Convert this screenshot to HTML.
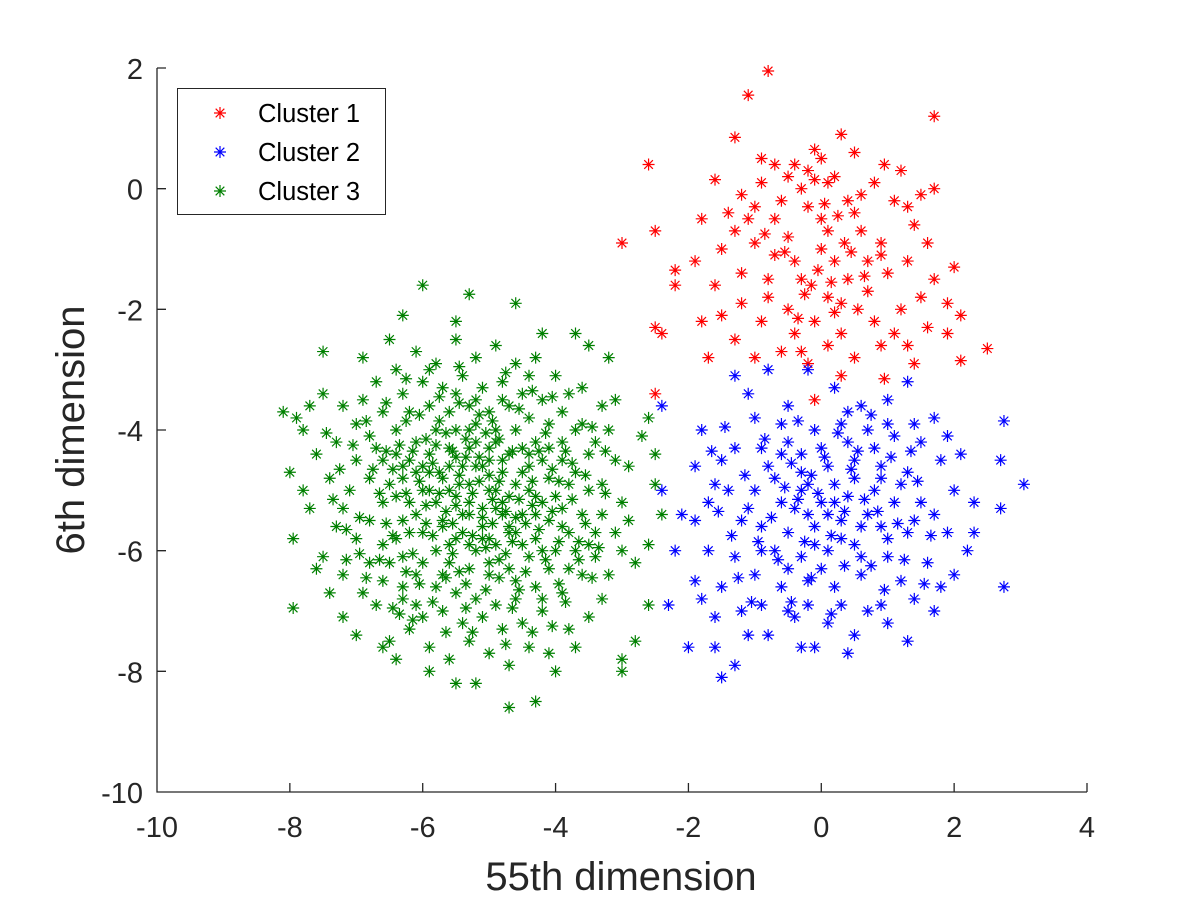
<!DOCTYPE html>
<html><head><meta charset="utf-8"><style>
html,body{margin:0;padding:0;background:#fff;}
svg{display:block;font-family:"Liberation Sans",Arial,sans-serif;}
</style></head><body>
<svg id="chart" width="1200" height="900" viewBox="0 0 1200 900">
<rect width="1200" height="900" fill="#fff"/>
<g id="marks"></g>
<g id="axes"></g>
<text x="621" y="890" text-anchor="middle" font-size="40" fill="#262626">55th dimension</text>
<text transform="translate(84,430) rotate(-90)" text-anchor="middle" font-size="40" fill="#262626">6th dimension</text>
<g>
<rect x="177.5" y="88.5" width="208" height="126" fill="#fff" stroke="#262626" stroke-width="1"/>
<g id="legmarks"></g>
<text x="258" y="122" font-size="25.5" fill="#000">Cluster 1</text>
<text x="258" y="161" font-size="25.5" fill="#000">Cluster 2</text>
<text x="258" y="200" font-size="25.5" fill="#000">Cluster 3</text>
</g>
</svg>
<script>
const xTicks=[-10,-8,-6,-4,-2,0,2,4];
const yTicks=[-10,-8,-6,-4,-2,0,2];
const seriesNames=["Cluster 1","Cluster 2","Cluster 3"];
const seriesColors=["#ff0000","#0000ff","#008000"];
const cluster1=[-0.8,1.95,-1.1,1.55,1.7,1.2,-2.6,0.4,-3,-0.9,-2.5,-0.7,2.5,-2.65,2.1,-2.85,1.7,0,0.3,0.9,-1.3,0.85,-0.9,0.5,-0.7,0.4,0.95,0.4,0.5,0.6,0,0.5,-0.1,0.65,-1.6,0.15,-1.2,-0.1,-0.6,-0.2,-0.3,0,0.2,0.2,0.6,-0.1,1.1,-0.2,1.4,-0.6,1.6,-0.9,-2.2,-1.35,-1.9,-1.2,-1.5,-1.0,-1.0,-0.9,-0.5,-0.8,0.1,-0.7,0.5,-0.4,0.9,-0.9,1.3,-1.2,2.0,-1.3,1.9,-1.9,2.1,-2.1,1.6,-2.3,1.2,-2.0,0.7,-1.7,0.4,-1.5,0.1,-1.8,-0.3,-1.5,-0.8,-1.5,-1.2,-1.4,-1.6,-1.6,-1.8,-2.2,-1.3,-2.5,-0.9,-2.2,-0.5,-2.0,-0.1,-2.2,0.3,-2.4,0.8,-2.2,1.3,-2.6,1.9,-2.4,-1.0,-2.8,-0.6,-2.7,-0.2,-2.9,0.3,-3.1,1.4,-2.9,-0.1,-3.5,-2.4,-2.4,-2.5,-2.3,-1.7,-2.8,-0.2,-0.3,0,-1,-0.4,-1.2,0.2,-1.2,0.6,-0.7,-0.7,-0.5,-1.4,-0.4,0.8,0.1,1.2,0.3,-0.2,0.3,0.4,-0.2,-0.4,0.4,-1.1,-0.5,1.7,-1.5,1.0,-1.4,0.3,-1.9,-0.4,-2.4,-1.2,-1.9,-1.5,-2.1,0.9,-2.6,0.5,-2.8,0.1,-2.6,-0.7,-1.1,-1.0,-0.3,0.7,-1.2,1.5,-1.8,-2.2,-1.6,-1.8,-0.5,-1.3,-0.7,0.0,-0.5,0.35,-0.9,-0.15,-1.6,0.55,-2.0,1.1,-2.4,-0.8,-1.8,-0.3,-2.7,0.9,-1.1,1.3,-0.3,-0.9,0.1,-0.5,0.2,0.1,0.1,1.5,-0.1,-2.5,-3.4,0.95,-3.15,
-0.05,-1.35,0.15,-1.55,-0.25,-1.75,0.05,-0.25,-0.55,-1.05,0.45,-1.05,-0.1,0.15,0.25,-0.45,-0.85,-0.75,0.65,-1.45,-0.35,-2.15,0.2,-2.05];
const cluster2=[3.05,-4.9,2.75,-3.85,2.75,-6.6,2.7,-5.3,2.7,-4.5,2.3,-5.2,2.2,-6.0,2.1,-4.4,1.7,-7.0,-1.5,-8.1,-1.3,-7.9,-2.3,-6.9,-2.4,-5.0,-2.1,-5.4,-2.4,-3.6,-1.6,-7.6,-0.1,-7.6,1.0,-7.2,1.7,-3.8,1.3,-3.2,-0.2,-3.0,-0.8,-3.0,-1.3,-3.1,-1.0,-3.8,-0.5,-3.6,0.2,-3.3,0.6,-3.6,1.0,-3.5,1.4,-3.9,-1.8,-4.0,-1.9,-4.6,-1.6,-4.9,-1.9,-5.5,-1.7,-6.0,-1.9,-6.5,-1.5,-6.6,-1.2,-7.0,-0.8,-7.4,-0.4,-7.1,0.1,-7.2,0.5,-7.4,0.9,-6.9,1.2,-6.5,1.6,-6.2,1.9,-5.7,2.0,-5.0,1.8,-4.5,1.5,-4.2,1.1,-4.1,0.7,-4.0,0.3,-3.9,-0.1,-4.0,-0.5,-4.2,-0.9,-4.3,-1.3,-4.3,-1.4,-5.0,-1.2,-5.5,-1.3,-6.1,-1.0,-6.4,-0.6,-6.6,-0.2,-6.5,0.2,-6.6,0.6,-6.4,1.0,-6.1,1.3,-5.7,1.5,-5.2,1.3,-4.7,0.9,-4.6,0.5,-4.5,0.1,-4.6,-0.3,-4.7,-0.7,-4.8,-1.0,-5.0,-0.9,-5.6,-0.7,-6.0,-0.3,-6.1,0.1,-6.0,0.5,-5.9,0.9,-5.6,1.1,-5.2,0.8,-5.0,0.4,-5.1,0.0,-5.2,-0.4,-5.3,-0.5,-5.7,-0.1,-5.6,0.3,-5.5,0.7,-5.4,0.2,-4.9,-0.2,-4.9,-0.6,-4.4,0.0,-4.3,0.4,-4.2,0.8,-4.3,1.2,-4.9,1.0,-5.8,0.6,-6.1,0.0,-6.3,-0.5,-6.3,-0.9,-6.0,-1.1,-5.3,-0.8,-4.6,-0.3,-5.0,0.1,-5.4,0.5,-4.8,0.9,-4.8,1.4,-5.5,1.7,-5.4,1.8,-6.6,1.4,-6.8,0.7,-7.0,0.3,-6.9,-0.2,-6.9,-0.9,-6.9,-1.6,-7.1,-1.7,-5.2,-1.5,-4.5,-1.1,-3.4,-0.6,-3.9,0.4,-3.7,1.0,-3.9,1.9,-4.1,2.3,-5.7,-2.2,-6.0,-1.8,-6.8,-0.3,-4.4,0.3,-5.8,-0.1,-5.9,0.6,-5.6,-0.6,-5.2,-0.2,-5.4,0.2,-5.2,-0.3,-7.6,0.4,-7.7,-0.5,-7.0,-1.1,-7.4,-2.0,-7.6,1.3,-7.5,2.0,-6.4,
-0.05,-5.05,0.35,-5.35,-0.35,-5.15,-0.15,-4.75,0.45,-4.65,-0.55,-4.95,0.15,-5.75,0.65,-5.15,-0.75,-5.45,-0.25,-5.85,0.85,-5.35,-0.45,-4.55,0.05,-4.45,0.55,-4.35,1.05,-4.45,-0.85,-4.15,0.25,-4.05,-1.15,-4.75,-0.95,-5.85,1.15,-5.55,0.75,-6.25,-0.15,-6.45,0.35,-6.25,-0.65,-6.15,1.25,-6.15,-1.35,-5.75,1.45,-4.85,1.65,-5.75,-1.55,-5.35,-1.25,-6.45,0.95,-6.65,-0.45,-6.85,0.15,-7.05,-1.05,-6.85,1.55,-6.55,1.35,-4.35,-0.35,-3.85,0.75,-3.75,-1.45,-3.95,-1.65,-4.35];
const cluster3=[-8.1,-3.7,-8.0,-4.7,-7.95,-6.95,-7.9,-3.8,-7.95,-5.8,-7.5,-2.7,-6.9,-2.8,-6.3,-2.1,-6.0,-1.6,-5.3,-1.75,-4.6,-1.9,-3.7,-2.4,-3.2,-2.8,-3.0,-7.8,-3.0,-8.0,-4.7,-8.6,-4.3,-8.5,-5.5,-8.2,-5.2,-8.2,-2.8,-7.5,-2.6,-3.8,-2.5,-4.4,-2.5,-4.9,-2.4,-5.4,-2.6,-6.9,-2.7,-4.1,-2.6,-5.9,-3.0,-6.0,-3.1,-3.5,
-7.5,-3.4,-7.2,-3.6,-7.0,-3.9,-7.3,-4.2,-7.6,-4.4,-7.8,-4.0,-7.4,-4.8,-7.1,-5.0,-7.7,-5.3,-7.3,-5.6,-7.0,-5.8,-7.5,-6.1,-7.2,-6.4,-6.9,-6.7,-7.4,-6.7,-7.0,-7.4,-6.6,-7.6,-6.4,-7.8,-6.2,-7.3,-5.9,-7.6,-5.6,-7.8,-5.3,-7.5,-5.0,-7.7,-4.7,-7.9,-4.4,-7.6,-4.1,-7.7,-3.8,-7.3,-3.5,-7.1,-3.3,-6.8,-3.2,-6.4,-3.4,-6.1,-3.1,-5.7,-3.0,-5.2,-3.3,-4.9,-3.1,-4.5,-3.4,-4.2,-3.6,-3.9,-3.3,-3.6,-3.8,-3.4,-4.0,-3.1,-4.3,-2.8,-4.6,-2.9,-4.9,-2.6,-5.2,-2.8,-5.5,-2.5,-5.8,-2.9,-6.1,-2.7,-6.4,-3.0,-6.7,-3.2,-6.9,-3.5,-6.6,-3.7,-6.3,-3.4,-6.0,-3.2,-5.7,-3.3,-5.4,-3.1,-5.1,-3.3,-4.8,-3.2,-4.5,-3.4,-4.2,-3.5,-3.9,-3.7,-3.7,-4.0,-3.5,-4.4,-3.7,-4.7,-3.5,-5.0,-3.6,-5.4,-3.4,-5.7,-3.7,-6.0,-3.6,-6.4,-3.9,-6.7,-4.2,-7.0,-4.5,-7.2,-4.8,-7.3,-5.1,-7.1,-5.4,-7.2,-5.7,-7.0,-6.0,-7.1,-6.3,-6.8,-6.6,-6.5,-6.8,-6.2,-6.6,-5.9,-6.8,-5.5,-6.6,-5.2,-6.8,-4.8,-6.6,-4.5,-6.8,-4.1,-6.4,-4.0,-6.2,-3.7,-5.9,-3.6,-5.6,-3.7,-5.3,-3.6,-5.0,-3.7,-4.7,-3.6,-4.4,-3.8,-4.1,-3.9,-3.9,-4.2,-3.9,-4.5,-3.8,-4.9,-3.9,-5.3,-3.8,-5.7,-4.0,-6.0,-4.1,-6.3,-4.3,-6.6,-4.6,-6.8,-4.9,-6.9,-5.2,-6.8,-5.5,-6.7,-5.8,-6.6,-6.1,-6.4,-6.3,-6.1,-6.4,-5.8,-6.3,-5.5,-6.4,-5.1,-6.3,-4.8,-6.4,-4.4,-6.1,-4.2,-5.8,-4.0,-5.5,-4.0,-5.2,-3.9,-4.9,-4.0,-4.6,-4.0,-4.3,-4.2,-4.2,-4.5,-4.1,-4.8,-4.2,-5.2,-4.1,-5.5,-4.3,-5.8,-4.4,-6.1,-4.7,-6.3,-5.0,-6.4,-5.3,-6.3,-5.6,-6.2,-5.8,-6.0,-6.0,-5.7,-6.1,-5.4,-6.0,-5.0,-6.1,-4.7,-5.9,-4.4,-5.6,-4.3,-5.3,-4.3,-5.0,-4.3,-4.7,-4.4,-4.5,-4.7,-4.4,-5.0,-4.5,-5.4,-4.6,-5.7,-4.9,-5.9,-5.2,-6.0,-5.5,-5.8,-5.7,-5.5,-5.8,-5.2,-5.7,-4.8,-5.4,-4.6,-5.1,-4.6,-4.8,-4.7,-4.7,-5.1,-4.8,-5.4,-5.1,-5.6,-5.4,-5.4,-5.5,-5.1,-5.3,-4.9,-5.0,-5.0,-5.1,-5.3,-5.3,-5.2,-4.9,-4.2,-5.6,-4.6,-6.2,-5.2,-5.0,-6.2,-4.3,-5.4,-5.2,-3.5,-4.0,-5.1,-6.5,-4.9,-5.7,-6.4,-4.6,-6.5,-3.8,-6.3,-6.1,-6.9,-6.7,-6.9,-7.2,-5.3,-5.9,-3.0,-4.4,-3.1,-3.6,-3.3,-3.2,-4.0,-2.9,-4.6,-2.9,-5.5,-2.8,-6.2,-3.7,-7.6,-4.0,-8.0,-5.9,-8.0,-6.5,-7.5,-7.2,-7.1,-7.6,-6.3,-7.8,-5.0,-7.7,-3.6,-6.5,-2.5,-5.5,-2.2,-4.2,-2.4,-3.5,-2.6,-5.0,-5.8,-4.5,-4.3,-6.2,-4.5,-5.5,-3.4,-4.8,-3.5,-6.0,-6.2,-4.2,-6.8,-3.3,-5.4,-3.5,-5.9,-6.7,-4.3,-7.0,-4.5,-5.3,-4.0,-4.9,-5.3,-5.6,-5.9,-6.3,-6.6,-4.4,-4.6,-5.0,-4.5,-4.7,-5.6,-5.4,-5.7,-5.9,-4.7,-6.5,-6.2,
-5.15,-4.45,-4.85,-4.85,-5.45,-4.75,-5.65,-5.35,-4.95,-5.55,-4.55,-5.15,-5.25,-5.75,-5.85,-4.55,-4.65,-4.35,-5.35,-4.15,-6.05,-4.85,-4.35,-4.85,-4.25,-5.65,-5.95,-5.55,-5.55,-6.05,-4.85,-6.15,-6.25,-5.05,-4.05,-4.65,-5.75,-3.85,-4.95,-3.85,-6.35,-4.25,-6.55,-5.55,-3.95,-5.85,-4.45,-6.35,-5.35,-6.55,-6.15,-6.05,-3.75,-5.15,-4.15,-4.05,-5.65,-4.05,-6.45,-4.65,-6.65,-5.05,-5.05,-6.65,-4.75,-6.05,-3.85,-4.35,-4.55,-3.65,-5.45,-3.55,-6.25,-3.85,-6.75,-4.65,-6.05,-6.55,-5.85,-6.85,-4.65,-6.95,-3.95,-6.55,-3.55,-5.55,-3.75,-4.55,-4.35,-3.35,-5.75,-3.45,-6.55,-3.55,-7.05,-4.25,-6.95,-5.45,-6.95,-6.05,-5.15,-4.85,-4.75,-5.35,-5.55,-5.55,-5.35,-4.45,-4.95,-5.15,-5.75,-5.05,-4.45,-5.55,-5.05,-4.05,-6.15,-4.35,-4.15,-6.15,-5.45,-6.35,-3.65,-6.15,-6.85,-6.45,-7.15,-6.15,-7.35,-5.15,-7.45,-4.05,-6.35,-7.05,-5.25,-7.35,-4.35,-7.35,-3.45,-6.45,-3.25,-5.05,-3.45,-3.95,-4.75,-3.05,-5.45,-2.95,-6.25,-3.15,-4.05,-3.45,-5.95,-5.25,-4.25,-4.35,-5.05,-5.95,-6.45,-5.75,-3.85,-6.85,-6.65,-6.15,-5.65,-6.45,-4.55,-6.65,-4.85,-4.15,-5.55,-4.35,-6.05,-3.75,-4.65,-5.85,-5.25,-5.05,-5.85,-5.75,-4.35,-5.25,-4.05,-5.35,-3.95,-4.85,-5.15,-3.75,-5.95,-4.15,-6.55,-4.35,-6.25,-6.35,-3.55,-4.75,-3.65,-5.85,-4.85,-6.45,-5.35,-6.95,-6.15,-7.15,-4.05,-7.25,-6.85,-3.85,-7.25,-4.65,-7.15,-5.65,-6.45,-6.95,-5.65,-7.35,-4.75,-7.55,-3.35,-5.95,-3.25,-4.35,
-5.0,-4.75,-5.2,-4.6,-4.9,-5.0,-5.3,-5.4,-4.8,-5.2,-5.6,-5.0,-5.1,-5.45,-5.45,-4.9,-4.6,-4.9,-5.75,-4.7,-4.6,-5.45,-5.2,-4.2,-5.9,-5.0,-4.4,-4.4,-5.5,-4.45,-5.7,-5.6,-4.7,-5.7,-5.3,-5.9,-4.3,-5.1,-6.0,-4.6,-4.8,-4.5,-5.5,-5.25,-5.1,-5.8,-4.5,-5.9,-6.2,-5.7,-4.1,-4.3,-3.9,-5.6,-6.3,-4.6,-5.8,-4.25,-4.2,-6.0];
const clusters=[cluster1,cluster2,cluster3];

const X0=157,X1=1087,Y0=792,Y1=68,xMin=-10,xMax=4,yMin=-10,yMax=2;
function sx(v){return X0+(v-xMin)/(xMax-xMin)*(X1-X0);}
function sy(v){return Y0-(v-yMin)/(yMax-yMin)*(Y0-Y1);}
const NS="http://www.w3.org/2000/svg";
function star(x,y,r){const d=r*0.72;return `M${x-r},${y}H${x+r}M${x},${y-r}V${y+r}M${x-d},${y-d}L${x+d},${y+d}M${x-d},${y+d}L${x+d},${y-d}`;}
const marks=document.getElementById('marks');
clusters.forEach((arr,ci)=>{
  const g=document.createElementNS(NS,'g');
  
  
  let d='';
  for(let i=0;i<arr.length;i+=2){d+=star(sx(arr[i]),sy(arr[i+1]),6);}
  const p=document.createElementNS(NS,'path');
  p.setAttribute('d',d);p.setAttribute('stroke',seriesColors[ci]);p.setAttribute('stroke-width','1.2');p.setAttribute('fill','none');
  
  
  g.appendChild(p);marks.appendChild(g);
});
const axes=document.getElementById('axes');
let ad=`M${X0},${Y1}V${Y0}H${X1}`;
xTicks.forEach(t=>{ad+=`M${sx(t)},${Y0}v-9`;});
yTicks.forEach(t=>{ad+=`M${X0},${sy(t)}h9`;});
const ap=document.createElementNS(NS,'path');
ap.setAttribute('d',ad);ap.setAttribute('stroke','#262626');ap.setAttribute('stroke-width','1.3');ap.setAttribute('fill','none');


axes.appendChild(ap);
xTicks.forEach(t=>{const tx=document.createElementNS(NS,'text');
  tx.setAttribute('x',sx(t));tx.setAttribute('y',Y0+45);tx.setAttribute('text-anchor','middle');tx.setAttribute('font-size','29');tx.setAttribute('fill','#262626');
  tx.textContent=t;
  
  
  axes.appendChild(tx);});
yTicks.forEach(t=>{const tx=document.createElementNS(NS,'text');
  tx.setAttribute('x',X0-14);tx.setAttribute('y',sy(t)+11);tx.setAttribute('text-anchor','end');tx.setAttribute('font-size','29');tx.setAttribute('fill','#262626');
  tx.textContent=t;
  
  
  axes.appendChild(tx);});
const lm=document.getElementById('legmarks');
seriesNames.forEach((n,i)=>{const p=document.createElementNS(NS,'path');
  p.setAttribute('d',star(220,113+i*39,6));p.setAttribute('stroke',seriesColors[i]);p.setAttribute('stroke-width','1.2');
  
  
  lm.appendChild(p);});
</script>
</body></html>
